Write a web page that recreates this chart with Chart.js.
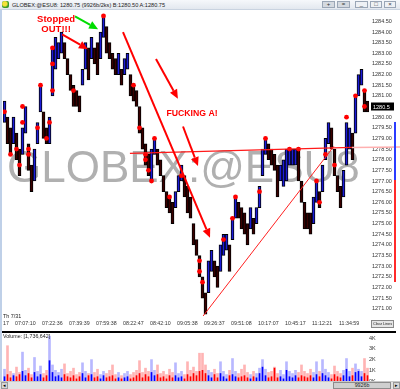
<!DOCTYPE html>
<html><head><meta charset="utf-8">
<script src="https://cdn.jsdelivr.net/npm/chart.js@4/dist/chart.umd.min.js"></script>
<style>
html,body{margin:0;padding:0;background:#fff;width:400px;height:389px;overflow:hidden;font-family:"Liberation Sans",Arial,sans-serif;}
#wrap{position:relative;width:400px;height:389px;}
.abs{position:absolute;}
#title{left:0;top:0;width:400px;height:10px;background:linear-gradient(#f6f8fb,#e3e8ef);border-bottom:1px solid #c9d3e0;box-sizing:border-box;}
#ico{left:2px;top:1px;width:7px;height:7px;border-radius:2px;background:radial-gradient(circle at 40% 40%,#f4e23a 0 35%,#3a9a2a 60%);}
#ttxt{left:12px;top:1.5px;font-size:5.6px;line-height:7px;color:#222;white-space:nowrap;}
.btn{top:1px;height:7px;box-sizing:border-box;border:1px solid #9aa6b6;font-size:6px;line-height:5px;text-align:center;color:#333;}
.dk{background:#d4d9e0;}
.lt{background:#eef1f5;}
#pc{left:0;top:10px;}
#vc{left:0;top:333px;}
#leftb{left:0;top:10px;width:2px;height:371px;background:#bfd0e8;}
#sep{left:2px;top:331px;width:394px;height:2px;background:#000;}
#th{left:3px;top:313px;font-size:5.4px;color:#222;}
#vol{left:3px;top:333px;font-size:5.3px;color:#222;white-space:nowrap;}
#clr{left:371px;top:320px;width:23px;height:8px;box-sizing:border-box;border:1px solid #888;background:#e6e6e6;font-size:3.8px;line-height:6px;text-align:center;color:#222;white-space:nowrap;}
#scroll{left:0;top:381px;width:400px;height:8px;background:#e3e3e3;border-top:1px solid #c8c8c8;box-sizing:border-box;}
#sl{left:1px;top:0px;width:7px;height:7px;background:#d6d6d6;border:1px solid #999;box-sizing:border-box;font-size:5px;line-height:5px;text-align:center;}
#thumb{left:333px;top:0px;width:58px;height:7px;background:#cfcfcf;border:1px solid #8c8c8c;box-sizing:border-box;font-size:5.3px;line-height:5px;text-align:center;color:#222;}
#sr{left:393px;top:0px;width:7px;height:7px;background:#d6d6d6;border:1px solid #999;box-sizing:border-box;font-size:5px;line-height:5px;text-align:center;}
#sb{left:394px;top:122px;width:2px;height:58px;background:#2a3cff;}
#sr2{left:394px;top:180px;width:2px;height:102px;background:#ff2a2a;}
</style></head><body>
<div id="wrap">
<canvas id="pc" class="abs" width="400" height="322"></canvas>
<canvas id="vc" class="abs" width="400" height="56"></canvas>
<div id="title" class="abs"><span id="ico" class="abs"></span><span id="ttxt" class="abs">GLOBEX:@ESU8: 1280.75 (9926b/2ks) B:1280.50 A:1280.75</span>
<div class="btn dk abs" style="left:322px;width:13px">+</div>
<div class="btn dk abs" style="left:337px;width:13px">=</div>
<div class="btn lt abs" style="left:355px;width:13px">_</div>
<div class="btn lt abs" style="left:370px;width:12px">□</div>
<div class="btn lt abs" style="left:384px;width:12px">×</div>
</div>
<div id="leftb" class="abs"></div>
<div id="sep" class="abs"></div>
<div id="th" class="abs">Th 7/31</div>
<div id="vol" class="abs">Volume: [1,736,642]</div>
<div id="clr" class="abs">Clear Lines</div>
<div id="sb" class="abs"></div><div id="sr2" class="abs"></div>
<div id="scroll" class="abs"><div id="sl" class="abs">◂</div><div id="thumb" class="abs">9926b</div><div id="sr" class="abs">▸</div></div>
</div>
<script>
// ---- data ----
const barHigh = [1280.75,1280.00,1279.50,1280.00,1279.25,1278.50,1279.50,1280.50,1278.75,1277.75,
1278.50,1279.75,1281.50,1280.25,1279.50,1280.00,1283.25,1283.75,1283.50,1284.00,
1283.50,1282.75,1282.00,1281.50,1281.25,1281.00,1282.25,1283.50,1283.25,1283.75,
1283.25,1283.50,1284.00,1284.75,1284.25,1283.50,1283.00,1282.75,1283.00,1282.25,
1282.75,1283.00,1282.00,1281.50,1281.25,1280.50,1279.50,1278.75,1278.25,1278.50,
1279.00,1278.50,1278.00,1277.25,1276.50,1276.25,1276.00,1276.50,1277.25,1277.75,
1277.25,1276.75,1276.25,1275.00,1274.25,1273.50,1272.50,1271.75,1273.25,1273.75,
1273.25,1273.00,1274.00,1274.50,1274.50,1274.00,1275.25,1276.25,1276.00,1275.75,
1275.50,1275.00,1275.75,1275.25,1275.75,1276.75,1278.50,1279.00,1278.75,1278.50,
1278.25,1277.75,1277.75,1278.00,1278.50,1278.50,1278.50,1278.50,1278.50,1277.00,
1276.00,1275.50,1275.50,1276.25,1277.00,1276.50,1277.75,1279.00,1279.75,1279.50,
1278.50,1277.25,1276.75,1277.50,1279.75,1279.50,1279.25,1281.00,1282.00,1282.25,
1281.25,1280.75];
const barLow = [1279.75,1278.75,1278.25,1278.75,1278.00,1277.25,1278.25,1279.25,1277.50,1276.50,
1277.00,1278.75,1280.25,1279.00,1278.75,1278.75,1281.00,1282.25,1282.75,1283.00,
1282.75,1282.00,1281.25,1280.50,1280.50,1280.25,1281.50,1282.25,1281.75,1282.75,
1282.50,1282.00,1282.75,1283.75,1283.00,1282.75,1282.25,1282.00,1282.00,1281.50,
1282.00,1282.25,1281.00,1280.75,1280.50,1279.25,1278.50,1277.75,1277.25,1277.00,
1278.25,1277.75,1277.25,1276.50,1275.75,1275.50,1275.00,1275.75,1276.50,1277.00,
1276.25,1275.50,1275.25,1274.00,1273.50,1272.50,1271.50,1270.75,1271.75,1272.75,
1272.50,1272.00,1272.75,1273.50,1273.75,1272.75,1274.25,1275.25,1275.25,1274.75,
1274.50,1274.00,1274.75,1274.50,1275.00,1275.75,1277.25,1278.25,1278.00,1277.75,
1277.50,1276.25,1277.00,1276.75,1277.00,1277.75,1277.75,1277.75,1277.00,1276.00,
1274.75,1274.75,1274.50,1275.00,1276.00,1275.75,1276.50,1278.00,1278.75,1278.50,
1277.25,1276.50,1275.75,1276.25,1277.75,1278.50,1278.00,1279.25,1281.00,1281.50,
1280.25,1280.25];
const dotBar   = [0,6,6,4,2,5,8,8,11,15,12,14,16,16,16,23,33,43,45,47,47,48,49,50,55,59,65,65,66,73,76,77,85,87,95,98,104,105,107,110,114,117,120,120];
const dotPrice = [1280.25,1280.50,1279.75,1278.50,1278.25,1277.75,1278.50,1278.25,1279.50,1279.75,1281.50,1279.00,1283.25,1282.50,1281.25,1281.25,1284.75,1281.50,1279.50,1278.25,1278.00,1277.50,1277.00,1279.00,1276.25,1277.25,1273.25,1272.75,1272.25,1274.25,1275.25,1276.25,1276.50,1279.00,1278.50,1278.50,1277.00,1276.00,1278.25,1277.75,1280.00,1281.00,1281.25,1280.50];
const volTotal = [1100,3300,900,700,1300,800,2700,1000,1200,600,2200,900,1400,700,1000,4200,1500,1000,800,1100,
1600,700,900,1200,600,800,1700,900,700,2000,800,1100,600,900,700,1000,1500,600,800,500,
700,900,600,800,1000,1900,800,1200,900,2000,1000,1500,700,900,600,1100,800,1700,700,900,
600,1800,1000,1300,900,2600,2600,1500,1000,800,1100,700,1800,900,600,1000,2100,900,700,1100,
1500,800,600,900,700,1200,2000,1100,800,900,1300,700,1000,600,1800,900,700,1000,800,1500,
900,700,1100,800,1800,900,2000,1100,800,600,1400,900,700,1000,2100,900,1200,1600,1100,900,
2100,1200];
const volDark = [400,600,300,500,400,600,900,500,700,300,800,400,600,300,500,1900,800,400,500,300,
600,400,300,500,200,400,700,300,500,600,300,400,200,500,300,400,500,200,300,200,
300,400,200,300,500,700,300,600,400,800,500,600,300,400,200,500,300,500,300,400,
200,600,400,700,500,900,1000,700,500,300,600,300,700,400,200,500,600,400,300,400,
500,300,200,400,300,700,1300,500,300,400,1200,300,400,200,1000,400,300,500,300,500,
400,300,500,300,600,400,700,500,300,200,600,400,300,500,1100,400,500,800,900,400,
700,500];
const priceTicks = [1284.5,1284,1283.5,1283,1282.5,1282,1281.5,1281,1280.5,1280,1279.5,1279,1278.5,1278,1277.5,1277,1276.5,1276,1275.5,1275,1274.5,1274,1273.5,1273,1272.5,1272,1271.5,1271];
const timeLabels = ["17","07:07:10","07:22:36","07:39:39","07:59:38","08:22:47","08:42:10","09:05:38","09:26:37","09:51:08","10:17:07","10:45:17","11:12:21","11:34:59"];
const timeTickBar = [-0.5,3.5,12.5,21.5,30.5,39.5,48.5,57.5,66.5,75.5,84.5,93.5,102.5,111.5];
const volTicks = [0,1000,2000,3000,4000];
const lastPrice = 1280.5;

// annotations in data units (bar index, price)
const arrows = [
  {from:[19.2,1283.89], to:[27.8,1283.19], color:'#ff0000'},
  {from:[23.5,1284.73], to:[31.2,1284.13], color:'#00dd00'},
  {from:[39.5,1283.99], to:[68.5,1274.34], color:'#ff0000'},
  {from:[50.5,1282.73], to:[57.8,1280.87], color:'#ff0000'},
  {from:[59.5,1279.56], to:[64.5,1277.70], color:'#ff0000'}
];
const labels = [
  {text:'Stopped', at:[17.2,1284.59], size:9.5},
  {text:'OUT!!!', at:[17.2,1284.13], size:9.5},
  {text:'FUCKING A!', at:[62.5,1280.17], size:8.7}
];
const hLine = {from:[41.8,1278.30], to:[115.8,1278.58]};
const trendLine = {from:[66.2,1270.66], to:[109.8,1278.63]};

Chart.defaults.font.family = '"Liberation Sans", Arial, sans-serif';
const N = barHigh.length;
const mid = barHigh.map((h,i)=>(h+barLow[i])/2);
const isUp = mid.map((m,i)=> i===0 ? true : m >= mid[i-1]);

function arrow(ctx,x1,y1,x2,y2,color,w,head){
  const a=Math.atan2(y2-y1,x2-x1);
  const bx=x2-head*Math.cos(a), by=y2-head*Math.sin(a);
  ctx.strokeStyle=color; ctx.lineWidth=w; ctx.beginPath(); ctx.moveTo(x1,y1); ctx.lineTo(bx,by); ctx.stroke();
  ctx.fillStyle=color; ctx.beginPath(); ctx.moveTo(x2,y2);
  ctx.lineTo(bx+head*0.45*Math.sin(a), by-head*0.45*Math.cos(a));
  ctx.lineTo(bx-head*0.45*Math.sin(a), by+head*0.45*Math.cos(a));
  ctx.closePath(); ctx.fill();
}

const annot = {
  id:'annot',
  beforeDatasetsDraw(chart){
    const {ctx, chartArea:a} = chart;
    ctx.save();
    ctx.font = '44px "Liberation Sans", Arial, sans-serif';
    ctx.fillStyle = '#b0b0b0';
    ctx.textBaseline = 'alphabetic';
    ctx.fillText('GLOBEX:@ESU8', a.left+4, a.top+170);
    ctx.restore();
  },
  afterDatasetsDraw(chart){
    const {ctx, chartArea:a, scales:{x,y}} = chart;
    const P = p => [x.getPixelForValue(p[0]), y.getPixelForValue(p[1])];
    ctx.save();
    let s=P(hLine.from), e=P(hLine.to);
    ctx.strokeStyle='#ff1a1a'; ctx.lineWidth=1.2;
    ctx.beginPath(); ctx.moveTo(s[0],s[1]); ctx.lineTo(e[0],e[1]); ctx.stroke();
    ctx.strokeStyle='#ffb0b0'; ctx.lineWidth=1.5;
    ctx.beginPath(); ctx.moveTo(e[0],e[1]); ctx.lineTo(chart.width,e[1]-0.5); ctx.stroke();
    s=P(trendLine.from); e=P(trendLine.to);
    ctx.strokeStyle='#ff2020'; ctx.lineWidth=1;
    ctx.beginPath(); ctx.moveTo(s[0],s[1]); ctx.lineTo(e[0],e[1]); ctx.stroke();
    arrows.forEach(ar=>{ const f=P(ar.from), t=P(ar.to); arrow(ctx,f[0],f[1],t[0],t[1],ar.color,2,9); });
    ctx.fillStyle='#ff0000'; ctx.textAlign='center'; ctx.textBaseline='middle';
    labels.forEach(l=>{ ctx.font='bold '+l.size+'px "Liberation Sans", Arial, sans-serif'; const p=P(l.at); ctx.fillText(l.text,p[0],p[1]); });
    const ly = y.getPixelForValue(lastPrice);
    ctx.fillStyle='#000'; ctx.fillRect(a.right+2, ly-4, 23, 8);
    ctx.fillStyle='#fff'; ctx.font='5.5px "Liberation Sans", Arial, sans-serif';
    ctx.textAlign='left'; ctx.fillText(lastPrice.toFixed(1), a.right+4, ly+0.5);
    ctx.restore();
  }
};

new Chart(document.getElementById('pc'), {
  type:'bar',
  data:{datasets:[
    {type:'scatter', order:0, data: dotBar.map((b,i)=>({x:b,y:dotPrice[i]})), pointRadius:2.4, pointHoverRadius:2.4,
     backgroundColor:'#ff0000', borderColor:'#ff0000', borderWidth:0},
    {type:'bar', order:1, data: barHigh.map((h,i)=>({x:i,y:[barLow[i],h]})), barThickness:3,
     backgroundColor: isUp.map(u=> u ? '#1c1cd8' : '#3a0000'), borderColor:'#000', borderWidth:1, borderSkipped:false}
  ]},
  options:{
    responsive:false, animation:false, events:[],
    layout:{padding:{left:3,right:0,top:0,bottom:0}},
    plugins:{legend:{display:false}, tooltip:{enabled:false}},
    scales:{
      x:{type:'linear', min:-0.5, max:N-0.5, offset:false,
         grid:{display:false, drawTicks:false}, border:{display:false},
         afterBuildTicks: s=>{ s.ticks = timeTickBar.map(v=>({value:v})); },
         afterFit: s=>{ s.height=16; s.paddingLeft=0; s.paddingRight=0; },
         ticks:{align:'start', autoSkip:false, maxRotation:0, minRotation:0, padding:4, color:'#333',
                font:{size:5.3}, callback:(v,i)=>timeLabels[i]}},
      y:{type:'linear', position:'right', min:1270.66, max:1284.92,
         grid:{display:false, drawTicks:false}, border:{display:false},
         afterBuildTicks: s=>{ s.ticks = priceTicks.map(v=>({value:v})); },
         afterFit: s=>{ s.width=31; s.paddingTop=0; s.paddingBottom=0; },
         ticks:{padding:3, color:'#333', font:{size:5.5}, callback:v=>Number(v).toFixed(2)}}
    }
  },
  plugins:[annot]
});

new Chart(document.getElementById('vc'), {
  type:'bar',
  data:{datasets:[
    {order:0, data: volDark.map((v,i)=>({x:i,y:v})), barThickness:1, grouped:false,
     backgroundColor: isUp.map(u=> u ? '#0000ff' : '#ff0000')},
    {order:1, data: volTotal.map((v,i)=>({x:i,y:v})), barThickness:2, grouped:false,
     backgroundColor: isUp.map(u=> u ? '#b8b8ff' : '#ffb4b4')}
  ]},
  options:{
    responsive:false, animation:false, events:[],
    layout:{padding:{left:3,right:0,top:0,bottom:8}},
    plugins:{legend:{display:false}, tooltip:{enabled:false}},
    scales:{
      x:{type:'linear', min:-0.5, max:N-0.5, display:false, offset:false},
      y:{type:'linear', position:'right', min:0, max:4490,
         grid:{display:false, drawTicks:false}, border:{display:false},
         afterBuildTicks: s=>{ s.ticks = volTicks.map(v=>({value:v})); },
         afterFit: s=>{ s.width=31; s.paddingTop=0; s.paddingBottom=0; },
         ticks:{padding:0, color:'#333', font:{size:5.5}, callback:v=>(v/1000)+'K'}}
    }
  }
});
</script>
</body></html>
